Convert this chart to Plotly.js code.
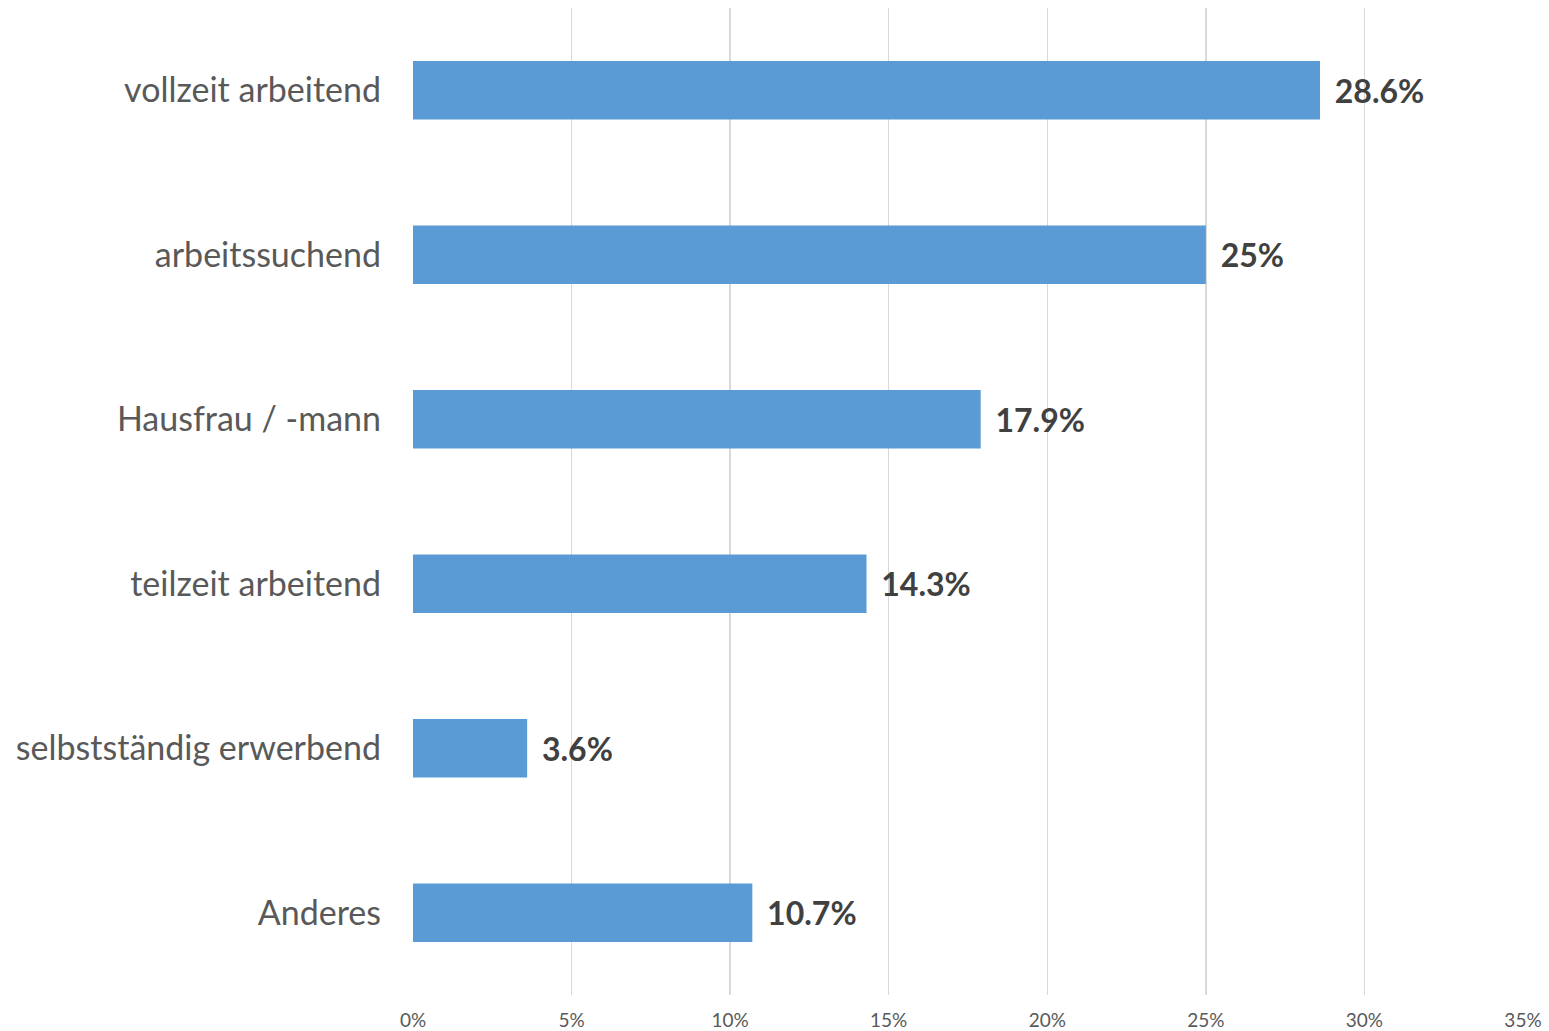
<!DOCTYPE html>
<html>
<head>
<meta charset="utf-8">
<script src="https://cdn.plot.ly/plotly-3.0.1.min.js"></script>
<style>html,body{margin:0;padding:0;background:#fff;}#chart{width:1549px;height:1031px;}</style>
</head>
<body>
<div id="chart"></div>
<script>
const categories = ["vollzeit arbeitend", "arbeitssuchend", "Hausfrau / -mann", "teilzeit arbeitend", "selbstständig erwerbend", "Anderes"];
const values = [28.6, 25, 17.9, 14.3, 3.6, 10.7];
const valueLabels = ["28.6%", "25%", "17.9%", "14.3%", "3.6%", "10.7%"];
const xTickVals = [0, 5, 10, 15, 20, 25, 30, 35];
const xTickText = ["0%", "5%", "10%", "15%", "20%", "25%", "30%", "35%"];

const trace = {
  type: 'bar',
  orientation: 'h',
  y: categories,
  x: values,
  text: valueLabels.map(t => '\u00a0\u2009' + t),
  textposition: 'outside',
  cliponaxis: false,
  textfont: {family: 'Lato, sans-serif', size: 32, color: '#404040', weight: 'bold'},
  marker: {color: '#5b9bd5'},
  width: 0.355,
  hoverinfo: 'none'
};

const layout = {
  width: 1549, height: 1031,
  margin: {l: 413, r: 26, t: 8, b: 36},
  paper_bgcolor: '#ffffff', plot_bgcolor: '#ffffff',
  showlegend: false,
  font: {family: 'Lato, sans-serif', color: '#595959'},
  xaxis: {
    range: [0, 35],
    tickvals: xTickVals, ticktext: xTickText,
    showgrid: true, gridcolor: '#d9d9d9', gridwidth: 1.5,
    zeroline: false, showline: false, ticks: '',
    ticklabelstandoff: 12,
    tickfont: {family: 'Lato, sans-serif', size: 19, color: '#595959'},
    fixedrange: true
  },
  yaxis: {
    type: 'category',
    categoryorder: 'array', categoryarray: categories,
    autorange: 'reversed',
    showgrid: false, zeroline: false, showline: false, ticks: '',
    ticklabelstandoff: 31,
    tickfont: {family: 'Lato, sans-serif', size: 34, color: '#595959'},
    fixedrange: true
  },
  bargap: 0.645
};

Plotly.newPlot('chart', [trace], layout, {displayModeBar: false, staticPlot: true});
</script>
</body>
</html>
